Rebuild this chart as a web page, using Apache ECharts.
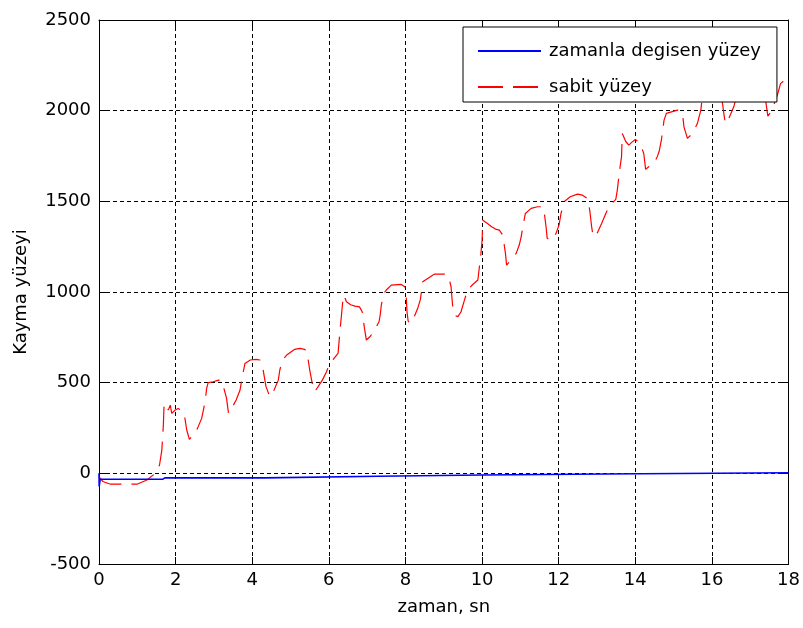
<!DOCTYPE html>
<html>
<head>
<meta charset="utf-8">
<script src="https://cdn.jsdelivr.net/npm/echarts@6/dist/echarts.min.js"></script>
<style>
  html, body { margin: 0; padding: 0; background: #fff; }
  #chart { width: 803px; height: 628px; }
</style>
</head>
<body>
<div id="chart"></div>
<script>
// Series labels
const seriesNames = ['zamanla degisen yüzey', 'sabit yüzey'];

// Axis ranges and ticks
const xTicks = [0, 2, 4, 6, 8, 10, 12, 14, 16, 18];
const yTicks = [-500, 0, 500, 1000, 1500, 2000, 2500];

// Time-varying sliding surface: [time (s), value]
const zamanlaDegisen = [
  [0, 0], [0.005, -72], [0.03, -33], [1.66, -33], [1.72, -25],
  [4.33, -25], [4.38, -16], [7.28, -16], [7.33, -9], [10.0, -9],
  [10.05, -4], [13.2, -4], [13.25, 2], [18, 3]
];

// Fixed sliding surface: [time (s), value]
const sabit = [
  [0, -20], [0.1, -45], [0.3, -60], [0.71, -60], [0.99, -60], [1.25, -37],
  [1.47, 0], [1.58, 46], [1.64, 128], [1.68, 266], [1.70, 386], [1.75, 389],
  [1.81, 349], [1.86, 376], [1.90, 331], [1.99, 349], [2.07, 358], [2.22, 334],
  [2.29, 239], [2.36, 187], [2.42, 202], [2.57, 248], [2.68, 303], [2.77, 395],
  [2.81, 469], [2.85, 500], [2.98, 505], [3.12, 514], [3.20, 510], [3.26, 469],
  [3.33, 413], [3.38, 331], [3.44, 349], [3.58, 404], [3.68, 458], [3.75, 542],
  [3.81, 606], [3.95, 625], [4.10, 628], [4.20, 625], [4.27, 588], [4.33, 514],
  [4.36, 478], [4.46, 422], [4.57, 459], [4.68, 514], [4.72, 570], [4.79, 625],
  [4.90, 652], [5.11, 684], [5.24, 689], [5.37, 684], [5.43, 670], [5.50, 570],
  [5.59, 469], [5.63, 450], [5.72, 478], [5.83, 514], [5.94, 560], [6.00, 597],
  [6.12, 630], [6.24, 661], [6.30, 808], [6.33, 873], [6.37, 965], [6.39, 983],
  [6.46, 946], [6.57, 930], [6.68, 922], [6.80, 918], [6.87, 891], [6.93, 799],
  [6.98, 735], [7.07, 753], [7.17, 781], [7.31, 836], [7.34, 873], [7.37, 928],
  [7.43, 992], [7.50, 1011], [7.63, 1038], [7.89, 1042], [7.98, 1029], [8.02, 974],
  [8.04, 891], [8.07, 840], [8.11, 827], [8.21, 855], [8.32, 910], [8.39, 959],
  [8.45, 1056], [8.58, 1075], [8.76, 1099], [9.02, 1099], [9.12, 1090], [9.19, 1029],
  [9.24, 900], [9.30, 870], [9.37, 864], [9.45, 891], [9.54, 955], [9.62, 1011],
  [9.75, 1040], [9.89, 1066], [9.93, 1139], [9.97, 1213], [10.00, 1286], [10.02, 1396],
  [10.06, 1400], [10.14, 1378], [10.25, 1360], [10.35, 1347], [10.45, 1341], [10.54, 1314],
  [10.61, 1213], [10.64, 1148], [10.75, 1176], [10.89, 1213], [10.97, 1259], [11.02, 1304],
  [11.08, 1378], [11.13, 1433], [11.28, 1461], [11.45, 1470], [11.58, 1470], [11.62, 1442],
  [11.67, 1360], [11.70, 1296], [11.80, 1286], [11.93, 1323], [12.01, 1370], [12.06, 1433],
  [12.14, 1498], [12.30, 1525], [12.49, 1540], [12.62, 1534], [12.75, 1516], [12.81, 1452],
  [12.86, 1360], [12.90, 1304], [13.01, 1327], [13.12, 1378], [13.23, 1433], [13.31, 1470],
  [13.49, 1511], [13.53, 1562], [13.59, 1672], [13.64, 1745], [13.66, 1874], [13.75, 1830],
  [13.83, 1810], [13.92, 1828], [14.00, 1841], [14.09, 1828], [14.16, 1800], [14.22, 1764],
  [14.27, 1676], [14.35, 1691], [14.49, 1709], [14.57, 1745], [14.62, 1773], [14.68, 1837],
  [14.75, 1948], [14.81, 1985], [15.10, 2003], [15.23, 1985], [15.27, 1911], [15.36, 1847],
  [15.49, 1874], [15.62, 1929], [15.71, 2003], [15.75, 2076], [15.90, 2150], [16.05, 2170],
  [16.20, 2120], [16.27, 2049], [16.31, 1985], [16.35, 1929], [16.40, 1935], [16.44, 1957],
  [16.57, 2021], [16.66, 2094], [16.80, 2160], [17.00, 2180], [17.20, 2150], [17.40, 2058],
  [17.46, 1970], [17.50, 1966], [17.57, 2003], [17.72, 2094], [17.79, 2149], [17.92, 2172],
  [18.00, 2186]
];

const FONT = 'DejaVu Sans';
const chart = echarts.init(document.getElementById('chart'), null, { renderer: 'canvas' });

const tickStyle = { inside: true, length: 7, lineStyle: { color: '#000', width: 1 } };
const axisLineStyle = { show: true, onZero: false, lineStyle: { color: '#000', width: 1 } };
const gridLine = { show: true, lineStyle: { color: '#000', width: 1, type: [4, 3] } };
const plainNumber = v => String(v);

chart.setOption({
  animation: false,
  backgroundColor: '#fff',
  textStyle: { fontFamily: FONT },
  grid: { left: 99, right: 13, top: 20, bottom: 64, containLabel: false },
  legend: {
    orient: 'vertical',
    left: 463,
    top: 27,
    padding: [15, 16, 6, 14],
    itemGap: 18,
    itemWidth: 63,
    itemHeight: 14,
    borderColor: '#000',
    borderWidth: 1,
    backgroundColor: '#fff',
    z: 10,
    itemStyle: { opacity: 0 },
    textStyle: { fontFamily: FONT, fontSize: 18, color: '#000', lineHeight: 14, padding: [0, 0, 0, 3] },
    data: seriesNames
  },
  xAxis: [
    {
      type: 'value',
      min: xTicks[0], max: xTicks[xTicks.length - 1], interval: 2,
      name: 'zaman, sn', nameLocation: 'middle', nameGap: 34,
      nameTextStyle: { fontFamily: FONT, fontSize: 18, color: '#000' },
      axisLine: axisLineStyle, axisTick: tickStyle,
      axisLabel: { fontFamily: FONT, fontSize: 18, color: '#000', margin: 7, formatter: plainNumber },
      splitLine: gridLine
    },
    {
      type: 'value', position: 'top',
      min: xTicks[0], max: xTicks[xTicks.length - 1], interval: 2,
      axisLine: axisLineStyle, axisTick: tickStyle,
      axisLabel: { show: false }, splitLine: { show: false }
    }
  ],
  yAxis: [
    {
      type: 'value',
      min: yTicks[0], max: yTicks[yTicks.length - 1], interval: 500,
      name: 'Kayma yüzeyi', nameLocation: 'middle', nameGap: 69,
      nameTextStyle: { fontFamily: FONT, fontSize: 18, color: '#000' },
      axisLine: axisLineStyle, axisTick: tickStyle,
      axisLabel: { fontFamily: FONT, fontSize: 18, color: '#000', margin: 8, formatter: plainNumber },
      splitLine: gridLine
    },
    {
      type: 'value', position: 'right',
      min: yTicks[0], max: yTicks[yTicks.length - 1], interval: 500,
      axisLine: axisLineStyle, axisTick: tickStyle,
      axisLabel: { show: false }, splitLine: { show: false }
    }
  ],
  series: [
    {
      name: seriesNames[0], type: 'line', xAxisIndex: 0, yAxisIndex: 0,
      data: zamanlaDegisen, showSymbol: false, symbol: 'none',
      lineStyle: { color: '#0000ff', width: 1.6 }, itemStyle: { color: '#0000ff' }, z: 3
    },
    {
      name: seriesNames[1], type: 'line', xAxisIndex: 0, yAxisIndex: 0,
      data: sabit, showSymbol: false, symbol: 'none',
      lineStyle: { color: '#ff0000', width: 1.2, type: [25, 10] }, itemStyle: { color: '#ff0000' }, z: 2
    }
  ]
});
</script>
</body>
</html>
